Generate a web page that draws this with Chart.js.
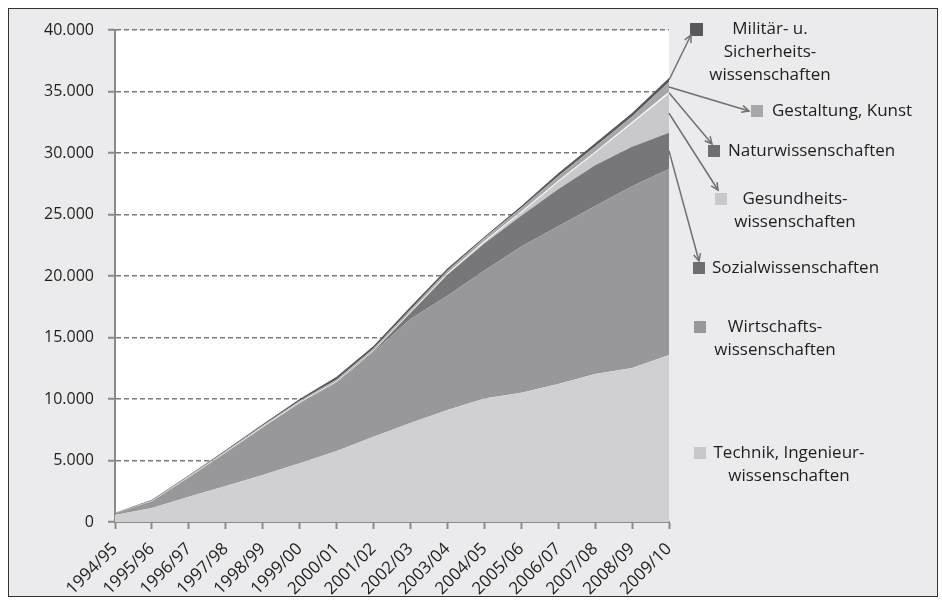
<!DOCTYPE html>
<html lang="de">
<head>
<meta charset="utf-8">
<title>Studierende nach Fächergruppen</title>
<script src="https://cdn.jsdelivr.net/npm/chart.js@4.4.1/dist/chart.umd.min.js"></script>
<style>
    html, body { margin: 0; padding: 0; background: #fff; }
    #wrap { width: 942px; height: 600px; }
</style>
</head>
<body>
<div id="wrap"><canvas id="areaChart" width="942" height="600"></canvas></div>
<script>
// Data (students per subject group, stacked)
const years = ['1994/95', '1995/96', '1996/97', '1997/98', '1998/99', '1999/00', '2000/01', '2001/02',
    '2002/03', '2003/04', '2004/05', '2005/06', '2006/07', '2007/08', '2008/09', '2009/10'];

const technik      = [560, 1140, 2060, 2930, 3820, 4770, 5770, 6940, 8050, 9100, 10050, 10510, 11220, 12030, 12520, 13580];
const wirtschaft   = [150, 540, 1560, 2710, 3860, 4890, 5560, 6880, 8450, 9300, 10400, 11890, 12830, 13670, 14780, 15120];
const sozial       = [0, 10, 20, 20, 30, 40, 60, 80, 500, 1700, 2200, 2500, 3000, 3300, 3200, 2950];
const gesundheit   = [0, 0, 0, 0, 0, 0, 0, 0, 30, 50, 100, 250, 600, 1000, 1900, 3160];
const natur        = [10, 20, 30, 40, 50, 60, 60, 60, 70, 80, 90, 100, 100, 100, 120, 160];
const gestaltung   = [10, 40, 60, 70, 80, 100, 130, 150, 170, 200, 240, 280, 350, 430, 450, 800];
const militaer     = [20, 50, 70, 80, 110, 140, 220, 190, 230, 170, 120, 170, 250, 270, 280, 330];

const yTicks = [0, 5000, 10000, 15000, 20000, 25000, 30000, 35000, 40000];

// Layers bottom to top
const layers = [
    { label: 'Technik, Ingenieurwissenschaften', data: technik, color: '#d0d0d2' },
    { label: 'Wirtschaftswissenschaften', data: wirtschaft, color: '#98989c' },
    { label: 'Sozialwissenschaften', data: sozial, color: '#77777b' },
    { label: 'Gesundheitswissenschaften', data: gesundheit, color: '#c9c9cb' },
    { label: 'Naturwissenschaften', data: natur, color: '#f4f4f4' },
    { label: 'Gestaltung, Kunst', data: gestaltung, color: '#a7a7a9' },
    { label: 'Militär- u. Sicherheitswissenschaften', data: militaer, color: '#58585c' }
];

// Legend entries: square colour, text lines, square position, arrow target
const legendItems = [
    { layer: 6, color: '#58585c', lines: ['Militär- u.', 'Sicherheits-', 'wissenschaften'], box: [690, 23, 13], text: [770, 29], center: true, tip: [691, 35] },
    { layer: 5, color: '#a8a8aa', lines: ['Gestaltung, Kunst'], box: [751, 105, 12], text: [772, 111], center: false, tip: [749, 111] },
    { layer: 4, color: '#6e6e72', lines: ['Naturwissenschaften'], box: [708, 145, 12], text: [728, 151], center: false, tip: [712, 144] },
    { layer: 3, color: '#c8c8ca', lines: ['Gesundheits-', 'wissenschaften'], box: [715, 193, 12], text: [795, 199], center: true, tip: [718, 190] },
    { layer: 2, color: '#6e6e72', lines: ['Sozialwissenschaften'], box: [693, 262, 12], text: [712, 268], center: false, tip: [699, 261] },
    { layer: -1, color: '#98989c', lines: ['Wirtschafts-', 'wissenschaften'], box: [694, 321, 12], text: [775, 327], center: true },
    { layer: -1, color: '#c8c8ca', lines: ['Technik, Ingenieur-', 'wissenschaften'], box: [694, 447, 12], text: [789, 453], center: true }
];

const FONT = '"Open Sans", "DejaVu Sans", sans-serif';

function formatThousands(v) {
    return String(v).replace(/\B(?=(\d{3})+(?!\d))/g, '.');
}

// Grey frame, white plot area
const backdrop = {
    id: 'backdrop',
    beforeDraw(chart) {
        const ctx = chart.ctx;
        const a = chart.chartArea;
        ctx.save();
        ctx.fillStyle = '#fff';
        ctx.fillRect(0, 0, chart.width, chart.height);
        ctx.fillStyle = '#ebebed';
        ctx.fillRect(8.5, 8.5, 929, 588);
        ctx.strokeStyle = '#333';
        ctx.lineWidth = 1;
        ctx.strokeRect(8.5, 8.5, 929, 588);
        ctx.fillStyle = '#fff';
        ctx.fillRect(a.left, a.top, a.right - a.left, a.bottom - a.top);
        ctx.restore();
    }
};

// Legend on the right with arrows pointing to the last data column
const arrowLegend = {
    id: 'arrowLegend',
    afterDraw(chart) {
        const ctx = chart.ctx;
        const yScale = chart.scales.y;
        const xScale = chart.scales.x;
        const last = years.length - 1;
        const xEnd = xScale.getPixelForValue(last);

        ctx.save();
        ctx.font = '17px ' + FONT;
        ctx.textBaseline = 'middle';
        legendItems.forEach(item => {
            ctx.fillStyle = item.color;
            ctx.fillRect(item.box[0], item.box[1], item.box[2], item.box[2]);

            ctx.fillStyle = '#1e1e1e';
            ctx.textAlign = item.center ? 'center' : 'left';
            item.lines.forEach((line, i) => {
                ctx.fillText(line, item.text[0], item.text[1] + i * 23);
            });

            if (item.layer < 0) return;
            // midpoint of the layer in the final year
            let below = 0;
            for (let k = 0; k < item.layer; k++) below += layers[k].data[last];
            const mid = below + layers[item.layer].data[last] / 2;
            const y0 = yScale.getPixelForValue(mid);
            const [tx, ty] = item.tip;

            ctx.strokeStyle = '#707070';
            ctx.lineWidth = 1.5;
            ctx.beginPath();
            ctx.moveTo(xEnd, y0);
            ctx.lineTo(tx, ty);
            ctx.stroke();

            const ang = Math.atan2(ty - y0, tx - xEnd);
            const len = 8;
            ctx.beginPath();
            ctx.moveTo(tx - len * Math.cos(ang - 0.45), ty - len * Math.sin(ang - 0.45));
            ctx.lineTo(tx, ty);
            ctx.lineTo(tx - len * Math.cos(ang + 0.45), ty - len * Math.sin(ang + 0.45));
            ctx.stroke();
        });
        ctx.restore();
    }
};

document.addEventListener('DOMContentLoaded', function () {
    const ctx = document.getElementById('areaChart');

    new Chart(ctx, {
        type: 'line',
        data: {
            labels: years,
            datasets: layers.map((l, i) => ({
                label: l.label,
                data: l.data,
                backgroundColor: l.color,
                borderWidth: 0,
                pointRadius: 0,
                tension: 0,
                fill: i === 0 ? 'origin' : '-1'
            }))
        },
        options: {
            responsive: false,
            animation: false,
            layout: {
                padding: { left: 10, right: 273, top: 30, bottom: 0 }
            },
            plugins: {
                legend: { display: false },
                tooltip: { enabled: false }
            },
            scales: {
                x: {
                    offset: false,
                    afterFit(scale) { scale.height = 78; },
                    border: { color: '#8a8a8a', width: 2 },
                    grid: {
                        drawOnChartArea: false,
                        drawTicks: true,
                        tickLength: 7,
                        tickColor: '#8a8a8a',
                        tickWidth: 2
                    },
                    ticks: {
                        autoSkip: false,
                        minRotation: 45,
                        maxRotation: 45,
                        padding: 10,
                        color: '#1e1e1e',
                        font: { family: FONT, size: 17 }
                    }
                },
                y: {
                    stacked: true,
                    min: 0,
                    max: 40000,
                    afterFit(scale) { scale.width = 105; },
                    afterBuildTicks(scale) {
                        scale.ticks = yTicks.map(v => ({ value: v }));
                    },
                    border: { color: '#8a8a8a', width: 2, dash: [5, 3] },
                    grid: {
                        color: '#7a7a7a',
                        lineWidth: 1.5,
                        drawTicks: true,
                        tickLength: 7,
                        tickColor: '#8a8a8a',
                        tickWidth: 2,
                        tickBorderDash: []
                    },
                    ticks: {
                        padding: 14,
                        color: '#1e1e1e',
                        font: { family: FONT, size: 16 },
                        callback: v => formatThousands(v)
                    }
                }
            }
        },
        plugins: [backdrop, arrowLegend]
    });
});
</script>
</body>
</html>
